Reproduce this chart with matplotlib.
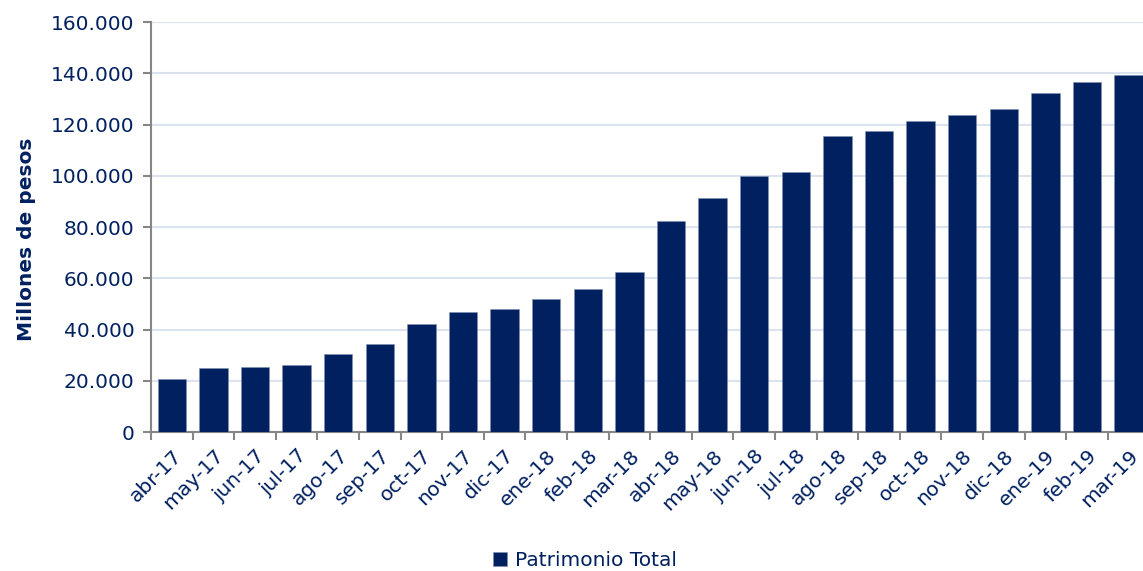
import numpy as np
import matplotlib.pyplot as plt

# Patrimonio total (millones de pesos), abr-17 .. mar-19
meses = ["abr-17", "may-17", "jun-17", "jul-17", "ago-17", "sep-17", "oct-17", "nov-17",
         "dic-17", "ene-18", "feb-18", "mar-18", "abr-18", "may-18", "jun-18", "jul-18",
         "ago-18", "sep-18", "oct-18", "nov-18", "dic-18", "ene-19", "feb-19", "mar-19"]
patrimonio = [20700, 24900, 25200, 26300, 30400, 34200, 42300, 46700,
              48000, 51800, 55700, 62300, 82500, 91200, 99800, 101300,
              115400, 117500, 121400, 123600, 125900, 132200, 136600, 139300]

navy = "#002060"
axis_grey = "#868686"

fig = plt.figure(figsize=(11.43, 5.71), dpi=100)
ax = fig.add_axes([0.1321, 0.2434, 0.8735, 0.718])

x = np.arange(len(meses))
ax.bar(x, patrimonio, width=0.68, color=navy, edgecolor="#8090b0", linewidth=0.4,
       label="Patrimonio Total", zorder=3)

ax.set_xlim(-0.5, len(meses) - 0.5)
ax.set_ylim(0, 160000)
ax.set_yticks(np.arange(0, 160001, 20000))
ax.set_yticklabels([f"{v:,}".replace(",", ".") for v in range(0, 160001, 20000)])
ax.yaxis.grid(True, color="#dbe3f0", linewidth=1.5, zorder=0)

# ticks at category boundaries, labels at centres
ax.set_xticks(np.arange(-0.5, len(meses), 1))
ax.set_xticklabels([])
ax.set_xticks(x, minor=True)
ax.set_xticklabels(meses, minor=True, rotation=45, ha="right", rotation_mode="anchor")
ax.tick_params(axis="x", which="major", length=6, width=1.5, color=axis_grey, direction="out")
ax.tick_params(axis="x", which="minor", length=0, pad=10, labelsize=14.5, labelcolor=navy)
ax.tick_params(axis="y", length=6, width=1.5, color=axis_grey, labelsize=14.5,
               labelcolor=navy, pad=6)

for s in ["top", "right"]:
    ax.spines[s].set_visible(False)
for s in ["left", "bottom"]:
    ax.spines[s].set_color(axis_grey)
    ax.spines[s].set_linewidth(1.5)

ax.set_ylabel("Millones de pesos", fontsize=14.5, fontweight="bold", color=navy, labelpad=10)
ax.yaxis.set_label_coords(-0.115, 0.47)

leg = fig.legend(loc="center", bbox_to_anchor=(0.512, 0.018), frameon=False,
                 fontsize=14.5, handlelength=0.7, handleheight=0.7, handletextpad=0.4)
for t in leg.get_texts():
    t.set_color(navy)

fig.savefig("out.png", dpi=100)
